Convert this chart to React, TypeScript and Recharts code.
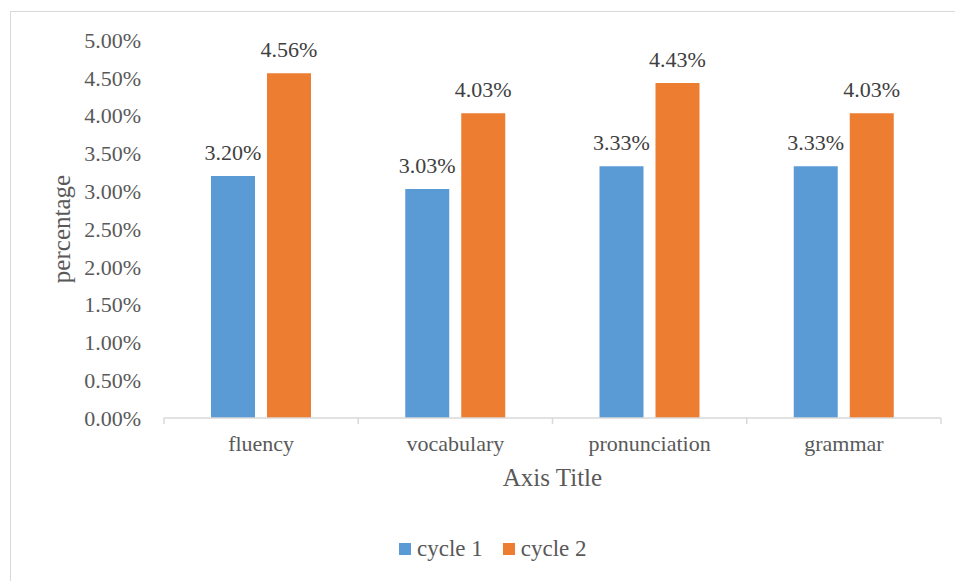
import React from "react";
import { BarChart, Bar, XAxis, YAxis, LabelList } from "recharts";

const categories = ["fluency", "vocabulary", "pronunciation", "grammar"];
const cycle1 = [3.2, 3.03, 3.33, 3.33];
const cycle2 = [4.56, 4.03, 4.43, 4.03];
const yTicks = [0, 0.5, 1, 1.5, 2, 2.5, 3, 3.5, 4, 4.5, 5];

const series = [
  { key: "cycle1", name: "cycle 1", color: "#5b9bd5" },
  { key: "cycle2", name: "cycle 2", color: "#ed7d31" },
];

const data = categories.map((name, i) => ({
  name,
  cycle1: cycle1[i],
  cycle2: cycle2[i],
}));

const FONT = "Liberation Serif, Times New Roman, serif";
const TEXT = "#595959";
const AXIS = "#d9d9d9";

function CategoryTick(props: any) {
  const { x, y, payload, index } = props;
  const half = payload.offset || 0;
  return (
    <g>
      <line x1={x - half} y1={y - 8} x2={x - half} y2={y - 2} stroke={AXIS} strokeWidth={1.5} />
      {index === categories.length - 1 && (
        <line x1={x + half} y1={y - 8} x2={x + half} y2={y - 2} stroke={AXIS} strokeWidth={1.5} />
      )}
      <text x={x} y={y + 25} textAnchor="middle" fill={TEXT} fontSize={22} fontFamily={FONT}>
        {payload.value}
      </text>
    </g>
  );
}

export default function App() {
  return (
    <div style={{ position: "absolute", left: 0, top: 0, width: 955, height: 581, overflow: "hidden", background: "#fff" }}>
      <div
        style={{
          position: "absolute",
          left: 10,
          top: 11,
          width: 980,
          height: 600,
          border: "1.5px solid #d9d9d9",
          boxSizing: "border-box",
        }}
      />
      <div style={{ position: "absolute", left: 0, top: 0 }}>
        <BarChart
          width={955}
          height={581}
          data={data}
          margin={{ top: 40, right: 14, left: 64, bottom: 83 }}
          barSize={44}
          barGap={12}
        >
          <XAxis
            dataKey="name"
            height={80}
            axisLine={{ stroke: AXIS, strokeWidth: 1.5 }}
            tickLine={false}
            tick={<CategoryTick />}
            interval={0}
            label={{
              value: "Axis Title",
              position: "insideTop",
              offset: 50,
              fill: TEXT,
              fontSize: 25,
              fontFamily: FONT,
            }}
          />
          <YAxis
            width={100}
            domain={[0, 5]}
            ticks={yTicks}
            interval={0}
            axisLine={false}
            tickLine={false}
            tickMargin={17}
            tickFormatter={(v: number) => v.toFixed(2) + "%"}
            tick={{ fill: TEXT, fontSize: 22, fontFamily: FONT }}
            label={{
              value: "percentage",
              angle: -90,
              position: "insideLeft",
              offset: -3,
              fill: TEXT,
              fontSize: 25,
              fontFamily: FONT,
              style: { textAnchor: "middle" },
            }}
          />
          {series.map((s) => (
            <Bar key={s.key} dataKey={s.key} name={s.name} fill={s.color} isAnimationActive={false}>
              <LabelList
                dataKey={s.key}
                position="top"
                offset={16}
                formatter={(v: any) => Number(v).toFixed(2) + "%"}
                style={{ fill: "#404040", fontSize: 22, fontFamily: FONT }}
              />
            </Bar>
          ))}
        </BarChart>
      </div>
      <div
        style={{
          position: "absolute",
          left: 399,
          top: 536,
          display: "flex",
          alignItems: "center",
          fontFamily: FONT,
          fontSize: 23,
          color: TEXT,
        }}
      >
        {series.map((s, i) => (
          <div key={s.key} style={{ display: "flex", alignItems: "center", marginRight: i === 0 ? 20 : 0 }}>
            <span style={{ width: 12, height: 12, background: s.color, display: "inline-block", marginRight: 6 }} />
            <span>{s.name}</span>
          </div>
        ))}
      </div>
    </div>
  );
}
